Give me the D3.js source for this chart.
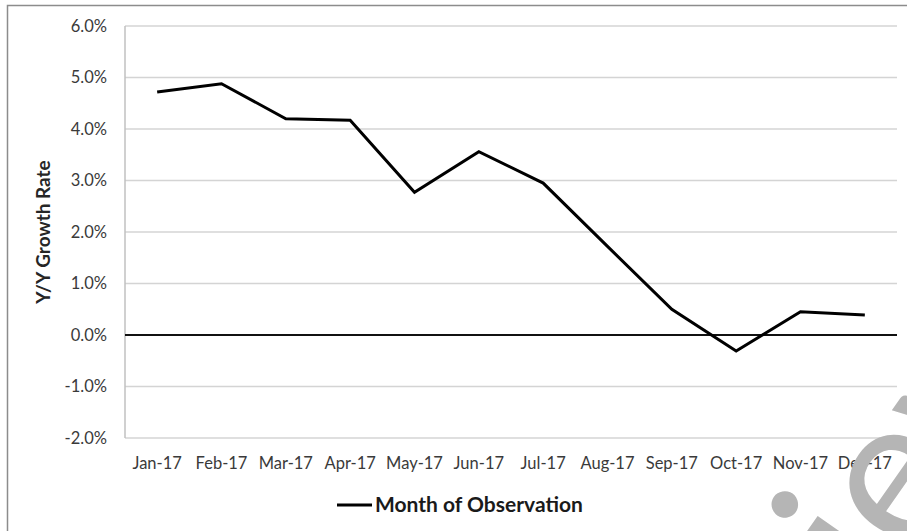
<!DOCTYPE html>
<html>
<head>
<meta charset="utf-8">
<script src="https://cdn.jsdelivr.net/npm/d3@7"></script>
<style>
  body { margin: 0; background: #fff; }
  text { font-family: Lato, "Open Sans", sans-serif; }
</style>
</head>
<body>
<div id="chart"></div>
<script>
// monthly data
var months = ["Jan-17","Feb-17","Mar-17","Apr-17","May-17","Jun-17","Jul-17","Aug-17","Sep-17","Oct-17","Nov-17","Dec-17"]
var growth = [4.72, 4.88, 4.20, 4.17, 2.77, 3.56, 2.95, 1.72, 0.50, -0.31, 0.45, 0.39]
var yTicks = [-2, -1, 0, 1, 2, 3, 4, 5, 6]
var seriesName = "Month of Observation"
var yTitle = "Y/Y Growth Rate"

var width = 907
var height = 531

var svg = d3.select("#chart")
  .append("svg")
    .attr("width", width)
    .attr("height", height)

// outer chart frame (cut off at right and bottom)
svg.append("rect")
  .attr("x", 7.5).attr("y", 5.5)
  .attr("width", 920).attr("height", 560)
  .attr("fill", "none")
  .attr("stroke", "#8c8c8c")
  .attr("stroke-width", 1.5)

var plotLeft = 125, plotRight = 897, plotTop = 26, plotBottom = 438

var x = d3.scaleBand()
  .domain(months)
  .range([plotLeft, plotRight])

var y = d3.scaleLinear()
  .domain([-2, 6])
  .range([plotBottom, plotTop])

// gridlines
svg.selectAll("grid")
  .data(yTicks.filter(function(d){ return d != 0 }))
  .join("line")
    .attr("x1", plotLeft).attr("x2", plotRight)
    .attr("y1", function(d){ return y(d) })
    .attr("y2", function(d){ return y(d) })
    .attr("stroke", "#d4d4d4")
    .attr("stroke-width", 1.5)

// left axis line
svg.append("line")
  .attr("x1", plotLeft).attr("x2", plotLeft)
  .attr("y1", plotTop).attr("y2", plotBottom)
  .attr("stroke", "#c0c0c0")
  .attr("stroke-width", 1.5)

// zero line
svg.append("line")
  .attr("x1", plotLeft).attr("x2", plotRight)
  .attr("y1", y(0)).attr("y2", y(0))
  .attr("stroke", "#111")
  .attr("stroke-width", 2)

// y tick labels
svg.selectAll("ylab")
  .data(yTicks)
  .join("text")
    .attr("x", 107)
    .attr("y", function(d){ return y(d) })
    .attr("dy", "0.36em")
    .attr("text-anchor", "end")
    .style("font-size", "16.5px")
    .style("fill", "#3a3a3a")
    .text(function(d){ return d.toFixed(1) + "%" })

// x tick labels
svg.selectAll("xlab")
  .data(months)
  .join("text")
    .attr("x", function(d){ return x(d) + x.bandwidth() / 2 })
    .attr("y", 469)
    .attr("text-anchor", "middle")
    .style("font-size", "16.5px")
    .style("fill", "#3a3a3a")
    .text(function(d){ return d })

// y axis title
svg.append("text")
  .attr("transform", "translate(50," + y(2) + ") rotate(-90)")
  .attr("text-anchor", "middle")
  .style("font-size", "19px")
  .style("font-weight", "bold")
  .style("fill", "#262626")
  .text(yTitle)

// the line
var line = d3.line()
  .x(function(d, i){ return x(months[i]) + x.bandwidth() / 2 })
  .y(function(d){ return y(d) })

svg.append("path")
  .datum(growth)
  .attr("d", line)
  .attr("fill", "none")
  .attr("stroke", "#000")
  .attr("stroke-width", 3)

// legend
svg.append("line")
  .attr("x1", 337).attr("x2", 372)
  .attr("y1", 505).attr("y2", 505)
  .attr("stroke", "#000")
  .attr("stroke-width", 3)
svg.append("text")
  .attr("x", 375).attr("y", 512)
  .style("font-size", "21px")
  .style("font-weight", "bold")
  .style("fill", "#1a1a1a")
  .text(seriesName)

// watermark on top, only partly inside the picture
var wm = svg.append("text")
  .style("font-size", "210px")
  .style("fill", "#b5b5b5")
  .text("Preview")
var off = wm.node().getSubStringLength(0, 5)
var deg = -55
var ang = deg * Math.PI / 180
var ex = 914, ey = 564
wm.attr("transform", "translate(" + (ex - off * Math.cos(ang)) + "," + (ey - off * Math.sin(ang)) + ") rotate(" + deg + ")")
</script>
</body>
</html>
